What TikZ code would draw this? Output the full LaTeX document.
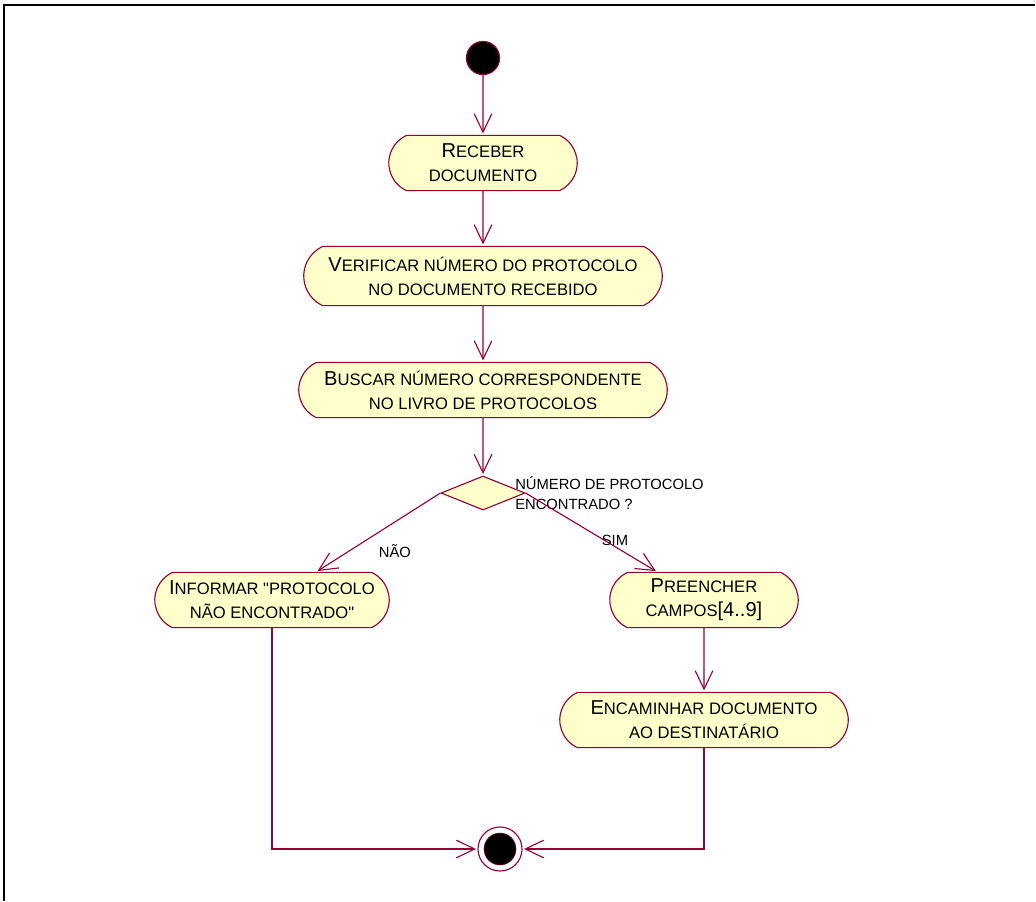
\documentclass[tikz,border=0pt]{standalone}
\usepackage{fontspec}
\setmainfont{Liberation Sans}
\usepackage{tikz}
\usetikzlibrary{arrows.meta,shapes.misc,shapes.geometric}

\definecolor{umlred}{RGB}{153,0,51}
\definecolor{umlfill}{RGB}{255,255,204}
\newcommand{\bigini}[1]{{\fontsize{14.3}{17}\selectfont #1}}

\tikzset{
  activity/.style={rounded rectangle, rounded rectangle arc length=130,
    draw=umlred, fill=umlfill, thick, align=center, minimum height=1.38cm,
    inner sep=2pt, font=\fontsize{11.8}{17}\selectfont},
  decision/.style={diamond, draw=umlred, fill=umlfill, thick, inner sep=0pt,
    minimum width=2.1cm, minimum height=0.85cm},
  startnode/.style={circle, draw=umlred, fill=black, thick, minimum size=0.83cm, inner sep=0pt},
  endnode/.style={circle, draw=umlred, thick, fill=white, minimum size=1.1cm, inner sep=0pt},
  guard/.style={font=\fontsize{10.5}{14}\selectfont, align=left, inner sep=0pt}
}

\begin{document}
\begin{tikzpicture}[x=0.025cm,y=-0.025cm,>={Straight Barb[length=4.6mm,width=4.4mm]},shorten >=1pt]
            \useasboundingbox (0,0) rectangle (1036,901);
            \draw[line width=1.3pt] (4,901) -- (4,5) -- (1036,5);

            \node[startnode]  (start)    at (483,58)   {};
            \node[activity, minimum width=4.85cm]  (receber)  at (483,163)
                {\bigini{R}ECEBER\\DOCUMENTO};
            \node[activity, minimum width=9.1cm, minimum height=1.48cm]   (verificar) at (483,276)
                {\bigini{V}ERIFICAR NÚMERO DO PROTOCOLO\\NO DOCUMENTO RECEBIDO};
            \node[activity, minimum width=9.35cm]  (buscar)   at (483,390)
                {\bigini{B}USCAR NÚMERO CORRESPONDENTE\\NO LIVRO DE PROTOCOLOS};
            \node[decision]   (dec)      at (483,493)  {};
            \node[guard, anchor=west] (pergunta) at (515,493)
                {NÚMERO DE PROTOCOLO\\ENCONTRADO ?};
            \node[activity, minimum width=6cm]     (informar) at (272,600)
                {\bigini{I}NFORMAR \textquotedbl PROTOCOLO\\NÃO ENCONTRADO\textquotedbl};
            \node[activity, minimum width=4.85cm]  (preencher) at (704,600)
                {\bigini{P}REENCHER\\CAMPOS\bigini{[4..9]}};
            \node[activity, minimum width=7.35cm]  (encaminhar) at (704,720)
                {\bigini{E}NCAMINHAR DOCUMENTO\\AO DESTINATÁRIO};
            \node[endnode]    (final)    at (500,849)  {};
            \node[circle, fill=black, draw=umlred, minimum size=0.8cm, inner sep=0pt] (finalin) at (final) {};

            \path[->, umlred, thick]
                (start) edge (receber)
                (receber) edge (verificar)
                (verificar) edge (buscar)
                (buscar) edge (dec)
                (dec.west) edge node[guard, text=black, pos=0.5, anchor=north west, yshift=-0.3cm] {NÃO} (informar)
                (dec.east) edge node[guard, text=black, pos=0.68, anchor=south, yshift=0.02cm] {SIM} (preencher)
                (preencher) edge (encaminhar);
            \draw[->, umlred, thick] (informar) |- (final);
            \draw[->, umlred, thick] (encaminhar) |- (final);
        \end{tikzpicture}
\end{document}
